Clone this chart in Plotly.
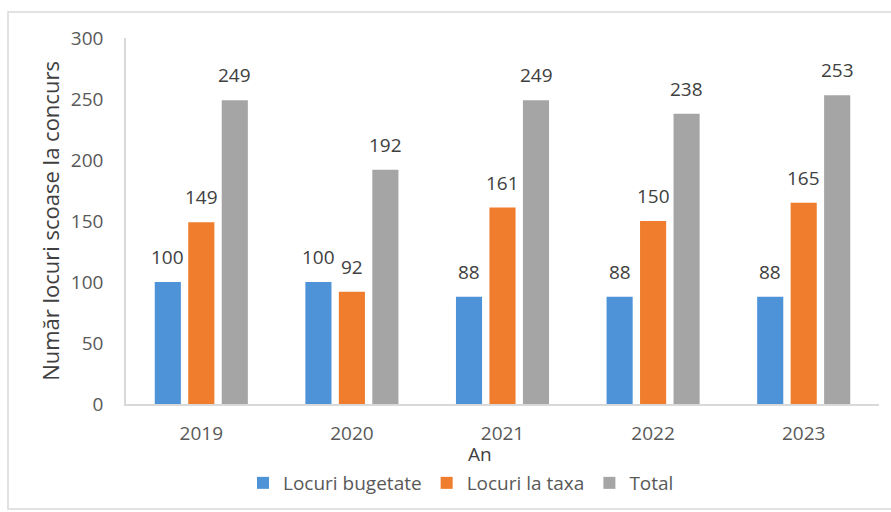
import plotly.graph_objects as go

years = ["2019", "2020", "2021", "2022", "2023"]
bugetate = [100, 100, 88, 88, 88]
taxa = [149, 92, 161, 150, 165]
total = [249, 192, 249, 238, 253]
series_names = ["Locuri bugetate", "Locuri la taxa", "Total"]
colors = ["#4e93d8", "#ef7d2d", "#a5a5a5"]

W, H = 891, 512
L, R, T, B = 126, 12, 38, 108
pw, ph = W - L - R, H - T - B

def px(x):
    return (x - L) / pw

def py(y):
    return (H - B - y) / ph

font = "Open Sans, Lato, DejaVu Sans, sans-serif"

fig = go.Figure()
series = [bugetate, taxa, total]
for name, vals, col in zip(series_names, series, colors):
    fig.add_trace(go.Bar(x=years, y=vals, name=name, marker=dict(color=col, line=dict(width=0))))

annotations = []
shifts = [-33.5, 0, 33.5]
for vals, sh in zip(series, shifts):
    for i, v in enumerate(vals):
        annotations.append(dict(x=i, y=v, xref="x", yref="y", text=str(v), showarrow=False,
                                xshift=sh, yshift=10, yanchor="bottom",
                                font=dict(family=font, size=19, color="#404040")))
annotations.append(dict(x=px(480), y=py(454), xref="paper", yref="paper", text="An", showarrow=False,
                        xanchor="center", yanchor="middle",
                        font=dict(family=font, size=19, color="#404040")))

fig.update_layout(
    width=W, height=H,
    margin=dict(l=L, r=R, t=T, b=B, autoexpand=False),
    paper_bgcolor="white", plot_bgcolor="white",
    barmode="group", bargap=0.333, bargroupgap=0.22,
    font=dict(family=font, size=19, color="#595959"),
    showlegend=True,
    legend=dict(orientation="h", x=px(461), y=py(483), xanchor="center", yanchor="middle",
                font=dict(family=font, size=19, color="#595959"), itemwidth=30,
                bgcolor="rgba(0,0,0,0)", traceorder="normal"),
    annotations=annotations,
    shapes=[dict(type="rect", xref="paper", yref="paper", x0=px(8), x1=px(896), y0=py(509), y1=py(12),
                 line=dict(color="#d9d9d9", width=1.5), layer="below")],
    xaxis=dict(type="category", range=[-0.5, 4.5], autorange=False, showgrid=False, showline=True,
               linecolor="#d9d9d9", linewidth=1.5,
               ticks="", ticklabelstandoff=11, tickfont=dict(family=font, size=19, color="#595959")),
    yaxis=dict(range=[0, 300], autorange=False, dtick=50, showgrid=False, showline=True, linecolor="#d9d9d9", linewidth=1.5,
               zeroline=False, ticks="", ticklabelstandoff=17,
               tickfont=dict(family=font, size=19, color="#595959"),
               title=dict(text="Număr locuri scoase la concurs", standoff=5,
                          font=dict(family=font, size=22, color="#404040"))),
)

fig.write_html("out.html", config={"displayModeBar": False},
               post_script="document.body.style.margin='0';document.body.style.overflow='hidden';")
